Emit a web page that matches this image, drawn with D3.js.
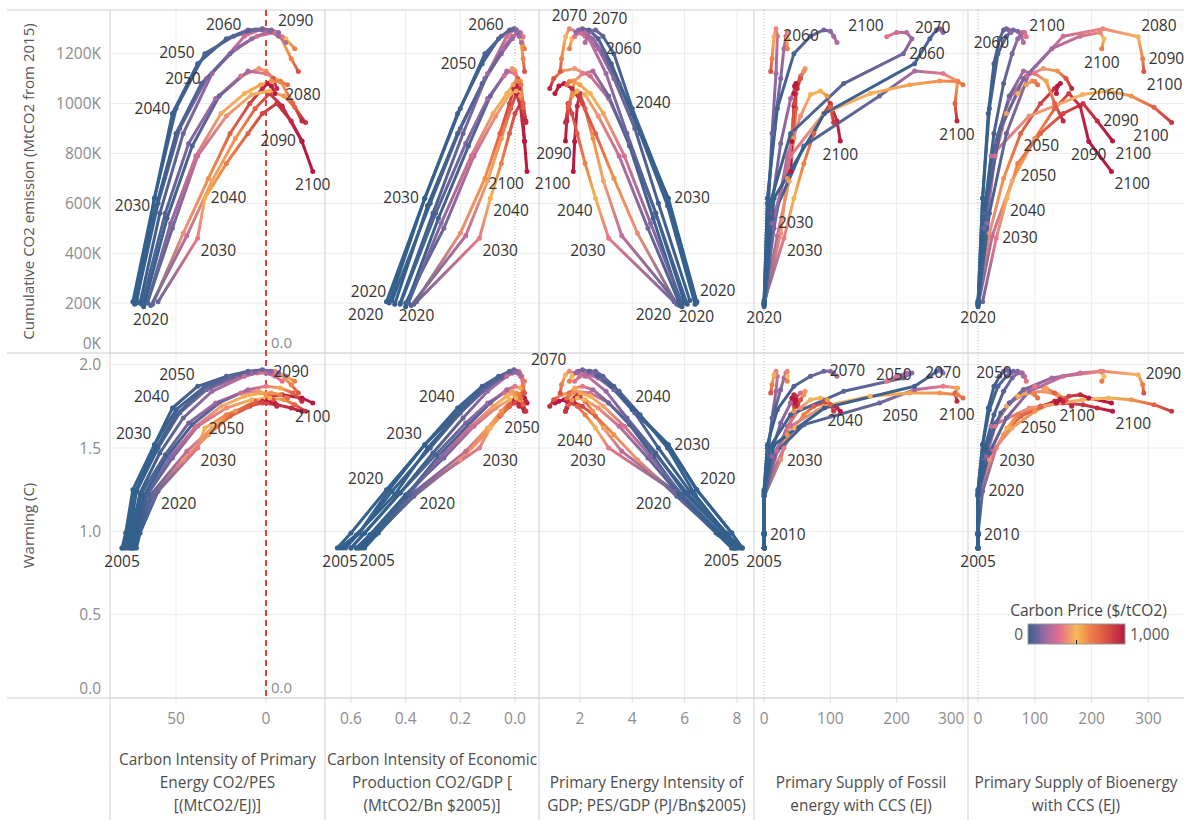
<!DOCTYPE html>
<html>
<head>
<meta charset="utf-8">
<script src="https://cdnjs.cloudflare.com/ajax/libs/d3/7.8.5/d3.min.js"></script>
<style>
body{margin:0;background:#fff;}
svg{display:block;font-family:"Open Sans",sans-serif;}
</style>
</head>
<body>
<script>
//carbon price pathways, one line per scenario in every panel
(function(){

//model years
var years = [2005, 2010, 2020, 2030, 2040, 2050, 2060, 2070, 2080, 2090, 2100];

//scenario ids, in drawing order (high price first so the blue ones sit on top)
var scenarios = ["s5", "s10", "s4", "s7", "s8", "s3", "s11", "s2", "s9", "s1", "s6", "s12"];

//carbon price ($/tCO2)
var carbonPrice = [
    [0, 0, 60, 250, 450, 600, 750, 880, 950, 1000, 1000],
    [0, 0, 80, 400, 600, 750, 850, 950, 1000, 1000, 1000],
    [0, 0, 100, 350, 520, 650, 750, 850, 900, 950, 1000],
    [0, 0, 20, 60, 120, 200, 300, 420, 600, 800, 950],
    [0, 0, 20, 100, 250, 400, 480, 520, 600, 750, 900],
    [0, 0, 0, 15, 40, 90, 200, 350, 550, 750, 950],
    [0, 0, 40, 150, 300, 450, 520, 560, 600, 650, 700],
    [0, 0, 5, 30, 90, 180, 280, 380, 480, 650, 800],
    [0, 0, 5, 20, 60, 120, 200, 280, 380, 500, 650],
    [0, 0, 0, 10, 30, 60, 110, 170, 230, 280, 330],
    [0, 0, 0, 5, 20, 40, 70, 100, 140, 180, 220],
    [0, 0, 0, 0, 10, 25, 45, 70, 100, 130, 160]
];

//cumulative CO2 emission from 2015 (thousand MtCO2)
var cumCO2 = [
    [null, null, 190, 470, 690, 860, 980, 1040, 990, 848, 728],
    [null, null, 195, 480, 700, 880, 1000, 1060, 1080, 1070, 1040],
    [null, null, 205, 460, 620, 760, 880, 960, 1000, 930, 850],
    [null, null, 195, 560, 840, 1020, 1110, 1140, 1130, 1100, 1060],
    [null, null, 200, 500, 790, 950, 1036, 1050, 1030, 985, 924],
    [null, null, 185, 540, 830, 1030, 1130, 1120, 1090, 1000, 930],
    [null, null, 200, 520, 790, 960, 1040, 1075, 1090, 1088, 1075],
    [null, null, 200, 560, 880, 1120, 1270, 1300, 1268, 1180, 1128],
    [null, null, 210, 600, 900, 1100, 1220, 1270, 1285, 1260, 1220],
    [null, null, 195, 590, 880, 1080, 1200, 1260, 1285, 1285, 1268],
    [null, null, 200, 620, 980, 1200, 1270, 1295, 1290, 1270, 1245],
    [null, null, 205, 620, 960, 1160, 1260, 1295, 1300, 1295, 1285]
];

//warming (C)
var warming = [
    [0.90, 0.98, 1.22, 1.48, 1.62, 1.72, 1.78, 1.81, 1.82, 1.80, 1.77],
    [0.90, 0.98, 1.21, 1.43, 1.58, 1.69, 1.75, 1.78, 1.79, 1.78, 1.77],
    [0.90, 0.99, 1.24, 1.50, 1.62, 1.70, 1.75, 1.77, 1.76, 1.74, 1.72],
    [0.90, 0.99, 1.23, 1.46, 1.65, 1.77, 1.83, 1.84, 1.82, 1.79, 1.75],
    [0.90, 0.98, 1.22, 1.44, 1.63, 1.74, 1.79, 1.80, 1.79, 1.76, 1.72],
    [0.90, 0.98, 1.21, 1.45, 1.64, 1.77, 1.85, 1.87, 1.86, 1.83, 1.78],
    [0.90, 0.98, 1.22, 1.45, 1.63, 1.75, 1.81, 1.83, 1.83, 1.82, 1.80],
    [0.90, 0.99, 1.23, 1.47, 1.68, 1.84, 1.93, 1.96, 1.94, 1.88, 1.83],
    [0.90, 0.99, 1.24, 1.50, 1.71, 1.85, 1.92, 1.95, 1.96, 1.93, 1.90],
    [0.90, 0.98, 1.22, 1.50, 1.70, 1.84, 1.92, 1.95, 1.95, 1.93, 1.90],
    [0.90, 0.99, 1.25, 1.52, 1.73, 1.87, 1.93, 1.96, 1.96, 1.95, 1.93],
    [0.90, 0.99, 1.25, 1.52, 1.74, 1.87, 1.93, 1.96, 1.97, 1.96, 1.95]
];

//carbon intensity of primary energy (MtCO2/EJ)
var ciPES = [
    [74, 72, 64, 44, 30, 17, 6, -2, -9, -20, -26],
    [73, 71, 63, 46, 32, 20, 9, 2, -1, -3, -5],
    [72, 70, 60, 38, 34, 22, 10, 2, -6, -14, -20],
    [77, 74, 69, 56, 43, 28, 14, 4, 0, -4, -6],
    [75, 73, 66, 52, 38, 22, 8, -2, -10, -16, -22],
    [75, 73, 68, 55, 41, 26, 10, 0, -8, -15, -20],
    [74, 72, 66, 53, 39, 25, 12, 3, -3, -8, -12],
    [76, 75, 70, 59, 46, 30, 12, 2, -8, -14, -18],
    [79, 76, 72, 60, 48, 33, 17, 5, -5, -11, -16],
    [80, 77, 73, 61, 50, 36, 20, 8, 0, -5, -9],
    [78, 76, 72, 62, 50, 34, 18, 6, -2, -7, -11],
    [80, 78, 74, 62, 52, 38, 22, 10, 2, -3, -7]
];

//carbon intensity of economic production (MtCO2/Bn $2005)
var ciGDP = [
    [0.57, 0.52, 0.38, 0.18, 0.10, 0.05, 0.015, -0.005, -0.02, -0.035, -0.044],
    [0.56, 0.51, 0.37, 0.20, 0.11, 0.055, 0.02, 0.004, -0.002, -0.005, -0.008],
    [0.55, 0.50, 0.36, 0.13, 0.09, 0.05, 0.02, 0.0, -0.02, -0.03, -0.035],
    [0.60, 0.55, 0.42, 0.29, 0.18, 0.10, 0.04, 0.01, 0.0, -0.01, -0.015],
    [0.58, 0.53, 0.40, 0.26, 0.15, 0.07, 0.02, -0.005, -0.02, -0.03, -0.04],
    [0.58, 0.53, 0.40, 0.28, 0.17, 0.09, 0.03, 0.0, -0.02, -0.03, -0.04],
    [0.57, 0.52, 0.39, 0.27, 0.16, 0.08, 0.03, 0.006, -0.006, -0.015, -0.022],
    [0.60, 0.55, 0.42, 0.30, 0.19, 0.10, 0.03, 0.0, -0.02, -0.03, -0.035],
    [0.63, 0.57, 0.45, 0.31, 0.20, 0.11, 0.045, 0.01, -0.015, -0.025, -0.035],
    [0.64, 0.58, 0.44, 0.32, 0.21, 0.12, 0.05, 0.01, -0.01, -0.02, -0.03],
    [0.62, 0.57, 0.46, 0.33, 0.20, 0.11, 0.05, 0.015, -0.005, -0.016, -0.024],
    [0.65, 0.60, 0.47, 0.33, 0.21, 0.12, 0.06, 0.02, 0.004, -0.006, -0.013]
];

//primary energy intensity of GDP (PJ/Bn$2005)
var peiGDP = [
    [7.9, 7.4, 5.8, 3.6, 2.9, 2.5, 2.2, 2.0, 1.9, 1.8, 1.75],
    [7.8, 7.3, 5.7, 4.2, 3.3, 2.6, 2.1, 1.7, 1.4, 1.2, 1.05],
    [7.8, 7.2, 5.6, 3.1, 2.6, 2.2, 1.9, 1.7, 1.55, 1.5, 1.45],
    [8.0, 7.5, 6.1, 4.9, 3.9, 3.1, 2.4, 1.8, 1.3, 1.0, 0.85],
    [7.9, 7.4, 5.8, 4.6, 3.5, 2.7, 2.2, 1.9, 1.7, 1.55, 1.45],
    [7.9, 7.4, 5.9, 4.8, 3.9, 3.1, 2.5, 2.1, 1.8, 1.6, 1.5],
    [7.9, 7.4, 5.9, 4.7, 3.7, 2.9, 2.4, 2.0, 1.75, 1.6, 1.5],
    [8.0, 7.5, 6.0, 4.9, 3.8, 3.0, 2.3, 1.6, 1.45, 1.3, 1.25],
    [8.1, 7.6, 6.2, 5.0, 4.1, 3.3, 2.7, 2.2, 1.9, 1.7, 1.6],
    [8.2, 7.6, 6.4, 5.35, 4.3, 3.5, 2.9, 2.5, 2.2, 2.0, 1.8],
    [8.2, 7.8, 6.45, 5.36, 4.0, 3.3, 2.88, 2.6, 2.4, 2.3, 2.2],
    [8.2, 7.8, 6.47, 5.38, 4.0, 3.2, 2.7, 2.35, 2.1, 1.95, 1.85]
];

//primary supply of fossil energy with CCS (EJ)
var fossilCCS = [
    [0, 0, 0, 20, 38, 45, 48, 48, 45, 42, 40],
    [0, 0, 0, 25, 35, 42, 46, 48, 48, 46, 45],
    [0, 0, 0, 30, 45, 60, 75, 90, 100, 110, 115],
    [0, 0, 0, 10, 25, 40, 55, 62, 60, 55, 50],
    [0, 0, 0, 15, 35, 55, 70, 85, 95, 100, 105],
    [0, 0, 0, 12, 60, 174, 227, 270, 292, 288, 291],
    [0, 0, 0, 12, 40, 90, 160, 220, 265, 292, 300],
    [0, 0, 0, 6, 12, 18, 20, 18, 15, 12, 10],
    [0, 0, 0, 5, 15, 25, 30, 33, 35, 35, 35],
    [0, 0, 0, 8, 40, 120, 210, 223, 215, 200, 185],
    [0, 0, 0, 5, 20, 45, 70, 90, 100, 105, 110],
    [0, 0, 0, 15, 91, 227, 250, 260, 265, 268, 270]
];

//primary supply of bioenergy with CCS (EJ)
var bioCCS = [
    [0, 0, 0, 25, 60, 100, 135, 160, 180, 195, 235],
    [0, 0, 0, 20, 45, 75, 110, 135, 145, 140, 138],
    [0, 0, 8, 32, 51, 70, 110, 150, 185, 210, 237],
    [0, 0, 0, 10, 30, 55, 85, 115, 140, 155, 165],
    [0, 0, 0, 10, 23, 90, 184, 230, 270, 310, 341],
    [0, 0, 0, 10, 30, 55, 80, 100, 120, 135, 150],
    [0, 0, 0, 15, 30, 50, 70, 85, 95, 100, 105],
    [0, 0, 0, 20, 50, 90, 150, 220, 282, 290, 292],
    [0, 0, 0, 15, 40, 80, 130, 180, 215, 222, 218],
    [0, 0, 0, 12, 28, 45, 60, 70, 78, 82, 85],
    [0, 0, 0, 8, 20, 35, 50, 62, 70, 76, 80],
    [0, 0, 0, 8, 18, 28, 38, 45, 50, 54, 58]
];

//axis ticks
var cumTicks = [0, 200, 400, 600, 800, 1000, 1200];
var warmTicks = [0, 0.5, 1.0, 1.5, 2.0];
var ciPESTicks = [50, 0];
var ciGDPTicks = [0.6, 0.4, 0.2, 0.0];
var peiTicks = [2, 4, 6, 8];
var ccsTicks = [0, 100, 200, 300];

//axis titles
var rowTitles = ["Cumulative CO2 emission (MtCO2 from 2015)", "Warming (C)"];
var colTitles = [
    ["Carbon Intensity of Primary", "Energy CO2/PES", "[(MtCO2/EJ)]"],
    ["Carbon Intensity of Economic", "Production CO2/GDP [", "(MtCO2/Bn $2005)]"],
    ["Primary Energy Intensity of", "GDP; PES/GDP (PJ/Bn$2005)"],
    ["Primary Supply of Fossil", "energy with CCS (EJ)"],
    ["Primary Supply of Bioenergy", "with CCS (EJ)"]
];

//legend
var legendTitle = "Carbon Price ($/tCO2)";
var priceStops = [0, 166.7, 333.3, 500, 666.7, 833.3, 1000];
var priceColors = ["#33608c", "#9768a5", "#e7718a", "#f6ba57", "#ed7846", "#d54c45", "#b81840"];

//year labels: [row, column, scenario, year, side]
var yearLabels = [
    [0,0,"s2",2060,"tl"], [0,0,"s1",2090,"tr"], [0,0,"s12",2050,"tl"], [0,0,"s9",2050,"l"],
    [0,0,"s6",2040,"l"], [0,0,"s1",2030,"l"], [0,0,"s5",2020,"b"], [0,0,"s4",2040,"r"],
    [0,0,"s4",2030,"br"], [0,0,"s5",2080,"tr"], [0,0,"s5",2090,"l"], [0,0,"s5",2100,"b"],
    [0,1,"s2",2060,"tl"], [0,1,"s12",2050,"l"], [0,1,"s12",2030,"l"], [0,1,"s6",2020,"tl"],
    [0,1,"s12",2020,"bl"], [0,1,"s4",2020,"b"], [0,1,"s5",2100,"bl"], [0,1,"s4",2040,"br"],
    [0,1,"s4",2030,"br"],
    [0,2,"s2",2070,"t"], [0,2,"s12",2070,"tr"], [0,2,"s6",2060,"br"], [0,2,"s12",2040,"tr"],
    [0,2,"s12",2030,"r"], [0,2,"s12",2020,"tr"], [0,2,"s4",2020,"bl"], [0,2,"s6",2020,"b"],
    [0,2,"s5",2090,"bl"], [0,2,"s5",2100,"bl"], [0,2,"s4",2040,"bl"], [0,2,"s4",2030,"bl"],
    [0,3,"s2",2060,"r"], [0,3,"s1",2100,"tl"], [0,3,"s1",2070,"tr"], [0,3,"s1",2060,"r"],
    [0,3,"s3",2100,"b"], [0,3,"s4",2100,"b"], [0,3,"s11",2030,"r"], [0,3,"s4",2030,"br"],
    [0,3,"s1",2020,"b"],
    [0,4,"s1",2060,"tl"], [0,4,"s1",2100,"tr"], [0,4,"s2",2080,"tr"], [0,4,"s2",2090,"r"],
    [0,4,"s2",2100,"br"], [0,4,"s9",2100,"b"], [0,4,"s8",2060,"r"], [0,4,"s8",2100,"bl"],
    [0,4,"s4",2090,"r"], [0,4,"s4",2100,"br"], [0,4,"s5",2090,"b"], [0,4,"s5",2100,"br"],
    [0,4,"s4",2050,"br"], [0,4,"s10",2050,"br"], [0,4,"s4",2040,"br"], [0,4,"s4",2030,"r"],
    [0,4,"s1",2020,"b"],
    [1,0,"s12",2050,"tl"], [1,0,"s12",2040,"tl"], [1,0,"s12",2030,"tl"], [1,0,"s2",2090,"t"],
    [1,0,"s5",2100,"b"], [1,0,"s4",2050,"b"], [1,0,"s4",2030,"br"], [1,0,"s4",2020,"br"],
    [1,0,"s1",2005,"b"],
    [1,1,"s12",2040,"tl"], [1,1,"s12",2030,"tl"], [1,1,"s12",2020,"tl"], [1,1,"s4",2020,"br"],
    [1,1,"s4",2050,"br"], [1,1,"s4",2030,"br"], [1,1,"s1",2005,"b"], [1,1,"s8",2005,"br"],
    [1,2,"s2",2070,"tl"], [1,2,"s12",2040,"tr"], [1,2,"s4",2040,"bl"], [1,2,"s4",2030,"bl"],
    [1,2,"s12",2030,"r"], [1,2,"s12",2020,"tr"], [1,2,"s4",2020,"bl"], [1,2,"s12",2005,"bl"],
    [1,3,"s6",2070,"r"], [1,3,"s12",2050,"tl"], [1,3,"s3",2070,"t"], [1,3,"s3",2100,"b"],
    [1,3,"s3",2050,"br"], [1,3,"s12",2040,"br"], [1,3,"s4",2030,"br"], [1,3,"s1",2010,"r"],
    [1,3,"s1",2005,"b"],
    [1,4,"s12",2050,"t"], [1,4,"s2",2090,"tr"], [1,4,"s4",2100,"br"], [1,4,"s10",2100,"br"],
    [1,4,"s4",2050,"br"], [1,4,"s4",2030,"br"], [1,4,"s4",2020,"r"], [1,4,"s1",2010,"r"],
    [1,4,"s1",2005,"b"]
];

window.onload = setChart;

function setChart(){
    var width = 1184,
        height = 820;

    //panel edges
    var colX = [110, 325, 539, 754, 968, 1184];
    var rowY = [10, 353, 698];

    var svg = d3.select("body")
        .append("svg")
        .attr("width", width)
        .attr("height", height);

    var defs = svg.append("defs");

    //price colour ramp (Sunset-Sunrise diverging)
    var color = d3.scaleLinear()
        .domain(priceStops)
        .range(priceColors)
        .clamp(true);

    //column setup
    var cols = [
        {data: ciPES, domain: [86.7, -32.8], ticks: ciPESTicks, fmt: d3.format("d"), zero: "red"},
        {data: ciGDP, domain: [0.695, -0.088], ticks: ciGDPTicks, fmt: d3.format(".1f"), zero: "dot"},
        {data: peiGDP, domain: [0.44, 8.65], ticks: peiTicks, fmt: d3.format("d"), zero: null},
        {data: fossilCCS, domain: [-15.2, 307.6], ticks: ccsTicks, fmt: d3.format("d"), zero: "dot"},
        {data: bioCCS, domain: [-17.7, 362.8], ticks: ccsTicks, fmt: d3.format("d"), zero: "dot"}
    ];
    cols.forEach(function(c, ci){
        c.x = d3.scaleLinear().domain(c.domain).range([colX[ci], colX[ci + 1]]);
    });

    var rows = [
        {data: cumCO2, ticks: cumTicks, fmt: function(d){ return d + "K"; },
         y: d3.scaleLinear().domain([0, 1375]).range([rowY[1], rowY[0]])},
        {data: warming, ticks: warmTicks, fmt: d3.format(".1f"),
         y: d3.scaleLinear().domain([0, 2.07]).range([rowY[2], rowY[1]])}
    ];

    var grid = svg.append("g").attr("class", "grid");

    //horizontal gridlines and y tick labels
    rows.forEach(function(r, ri){
        grid.selectAll(".hgrid" + ri)
            .data(r.ticks)
            .enter()
            .append("line")
            .attr("x1", colX[0]).attr("x2", width)
            .attr("y1", function(d){ return r.y(d); })
            .attr("y2", function(d){ return r.y(d); })
            .attr("stroke", "#ececec")
            .attr("stroke-width", 1);

        svg.selectAll(".ytick" + ri)
            .data(r.ticks)
            .enter()
            .append("text")
            .attr("x", 101)
            .attr("y", function(d){
                return Math.max(rowY[ri] + 10, Math.min(rowY[ri + 1] - 10, r.y(d))) + 5.5;
            })
            .attr("text-anchor", "end")
            .attr("font-size", "15.5px")
            .attr("fill", "#8c8c8c")
            .text(r.fmt);

        //row title
        var my = (rowY[ri] + rowY[ri + 1]) / 2;
        svg.append("text")
            .attr("transform", "translate(34," + my + ") rotate(-90)")
            .attr("text-anchor", "middle")
            .attr("font-size", "15px")
            .attr("fill", "#555")
            .text(rowTitles[ri]);
    });

    //vertical gridlines, tick labels and column titles
    cols.forEach(function(c, ci){
        grid.selectAll(".vgrid" + ci)
            .data(c.ticks.filter(function(t){ return !(t === 0 && c.zero); }))
            .enter()
            .append("line")
            .attr("x1", function(d){ return c.x(d); })
            .attr("x2", function(d){ return c.x(d); })
            .attr("y1", rowY[0]).attr("y2", rowY[2])
            .attr("stroke", "#ececec")
            .attr("stroke-width", 1);

        svg.selectAll(".xtickmark" + ci)
            .data(c.ticks)
            .enter()
            .append("line")
            .attr("x1", function(d){ return c.x(d); })
            .attr("x2", function(d){ return c.x(d); })
            .attr("y1", rowY[2]).attr("y2", rowY[2] + 5)
            .attr("stroke", "#e0e0e0");

        svg.selectAll(".xtick" + ci)
            .data(c.ticks)
            .enter()
            .append("text")
            .attr("x", function(d){
                var half = c.fmt(d).length * 4.6;
                return Math.max(colX[ci] + half + 3, Math.min(colX[ci + 1] - half - 3, c.x(d)));
            })
            .attr("y", 723.5)
            .attr("text-anchor", "middle")
            .attr("font-size", "15.5px")
            .attr("fill", "#8c8c8c")
            .text(c.fmt);

        var lines = colTitles[ci];
        var cx = (colX[ci] + colX[ci + 1]) / 2;
        svg.selectAll(".ctitle" + ci)
            .data(lines)
            .enter()
            .append("text")
            .attr("x", cx)
            .attr("y", function(d, i){ return 811 - (lines.length - 1 - i) * 23; })
            .attr("text-anchor", "middle")
            .attr("font-size", "15.4px")
            .attr("fill", "#4d4d4d")
            .text(function(d){ return d; });

        //zero lines
        if (c.zero === "dot"){
            grid.append("line")
                .attr("x1", c.x(0)).attr("x2", c.x(0))
                .attr("y1", rowY[0]).attr("y2", rowY[2])
                .attr("stroke", "#b8b8b8")
                .attr("stroke-dasharray", "1,2");
        }
    });

    //panel borders
    svg.selectAll(".vborder")
        .data(colX.slice(0, 5))
        .enter()
        .append("line")
        .attr("x1", function(d){ return d; }).attr("x2", function(d){ return d; })
        .attr("y1", rowY[0]).attr("y2", height)
        .attr("stroke", "#cfcfcf");

    svg.selectAll(".hborder")
        .data(rowY)
        .enter()
        .append("line")
        .attr("x1", 7).attr("x2", width)
        .attr("y1", function(d){ return d; }).attr("y2", function(d){ return d; })
        .attr("stroke", "#cfcfcf");

    //red reference line at zero carbon intensity
    var refX = cols[0].x(0);
    svg.append("line")
        .attr("x1", refX).attr("x2", refX)
        .attr("y1", rowY[0]).attr("y2", rowY[2])
        .attr("stroke", "#e0413a")
        .attr("stroke-width", 2)
        .attr("stroke-dasharray", "6,4");
    svg.selectAll(".reflabel")
        .data([rowY[1], rowY[2]])
        .enter()
        .append("text")
        .attr("x", refX + 5)
        .attr("y", function(d){ return d - 5; })
        .attr("font-size", "15px")
        .attr("fill", "#8c8c8c")
        .text("0.0");

    //trajectories
    var marks = svg.append("g").attr("class", "marks");
    var gid = 0;

    rows.forEach(function(r, ri){
        cols.forEach(function(c, ci){
            var panel = marks.append("g");
            var segs = [], pts = [];

            scenarios.forEach(function(id, si){
                for (var k = 0; k < years.length; k++){
                    var yv = r.data[si][k];
                    if (yv == null) continue;
                    var p = {
                        x: c.x(c.data[si][k]),
                        y: r.y(yv),
                        col: color(carbonPrice[si][k])
                    };
                    pts.push(p);
                    if (k < years.length - 1 && r.data[si][k + 1] != null){
                        segs.push({
                            a: p,
                            b: {
                                x: c.x(c.data[si][k + 1]),
                                y: r.y(r.data[si][k + 1]),
                                col: color(carbonPrice[si][k + 1])
                            }
                        });
                    }
                }
            });

            segs.forEach(function(s){
                var stroke;
                if (Math.abs(s.a.x - s.b.x) + Math.abs(s.a.y - s.b.y) < 0.5){
                    stroke = s.a.col;
                } else {
                    var g = defs.append("linearGradient")
                        .attr("id", "seg" + gid)
                        .attr("gradientUnits", "userSpaceOnUse")
                        .attr("x1", s.a.x).attr("y1", s.a.y)
                        .attr("x2", s.b.x).attr("y2", s.b.y);
                    g.append("stop").attr("offset", 0).attr("stop-color", s.a.col);
                    g.append("stop").attr("offset", 1).attr("stop-color", s.b.col);
                    stroke = "url(#seg" + gid + ")";
                    gid++;
                }
                panel.append("line")
                    .attr("x1", s.a.x).attr("y1", s.a.y)
                    .attr("x2", s.b.x).attr("y2", s.b.y)
                    .attr("stroke", stroke)
                    .attr("stroke-width", 3)
                    .attr("stroke-linecap", "round");
            });

            panel.selectAll("circle")
                .data(pts)
                .enter()
                .append("circle")
                .attr("cx", function(d){ return d.x; })
                .attr("cy", function(d){ return d.y; })
                .attr("r", 2.5)
                .attr("fill", function(d){ return d.col; });
        });
    });

    //year labels
    var offs = {
        l: [-6, 5, "end"], r: [6, 5, "start"], t: [0, -8, "middle"], b: [0, 19, "middle"],
        tl: [-3, -6, "end"], tr: [3, -6, "start"], bl: [-3, 18, "end"], br: [3, 18, "start"]
    };
    svg.append("g")
        .selectAll("text")
        .data(yearLabels)
        .enter()
        .append("text")
        .attr("x", function(d){
            var si = scenarios.indexOf(d[2]), k = years.indexOf(d[3]);
            return cols[d[1]].x(cols[d[1]].data[si][k]) + offs[d[4]][0];
        })
        .attr("y", function(d){
            var si = scenarios.indexOf(d[2]), k = years.indexOf(d[3]);
            return rows[d[0]].y(rows[d[0]].data[si][k]) + offs[d[4]][1];
        })
        .attr("text-anchor", function(d){ return offs[d[4]][2]; })
        .attr("font-size", "15.5px")
        .attr("fill", "#333")
        .text(function(d){ return d[3]; });

    setLegend(svg, defs);
}

function setLegend(svg, defs){
    var lx = 1028, ly = 624, lw = 97, lh = 20;

    var grad = defs.append("linearGradient").attr("id", "legendGrad");
    grad.selectAll("stop")
        .data(priceColors)
        .enter()
        .append("stop")
        .attr("offset", function(d, i){ return i / (priceColors.length - 1); })
        .attr("stop-color", function(d){ return d; });

    svg.append("text")
        .attr("x", lx + lw / 2 + 12)
        .attr("y", ly - 8)
        .attr("text-anchor", "middle")
        .attr("font-size", "15.5px")
        .attr("fill", "#444")
        .text(legendTitle);

    svg.append("rect")
        .attr("x", lx).attr("y", ly)
        .attr("width", lw).attr("height", lh)
        .attr("fill", "url(#legendGrad)")
        .attr("stroke", "#999")
        .attr("stroke-width", 1);

    svg.append("line")
        .attr("x1", lx + lw / 2).attr("x2", lx + lw / 2)
        .attr("y1", ly + lh - 4).attr("y2", ly + lh)
        .attr("stroke", "#222");

    svg.append("text")
        .attr("x", lx - 5).attr("y", ly + 15.5)
        .attr("text-anchor", "end")
        .attr("font-size", "15.5px")
        .attr("fill", "#555")
        .text("0");

    svg.append("text")
        .attr("x", lx + lw + 5).attr("y", ly + 15.5)
        .attr("font-size", "15.5px")
        .attr("fill", "#555")
        .text(d3.format(",")(priceStops[priceStops.length - 1]));
}

})();
</script>
</body>
</html>
